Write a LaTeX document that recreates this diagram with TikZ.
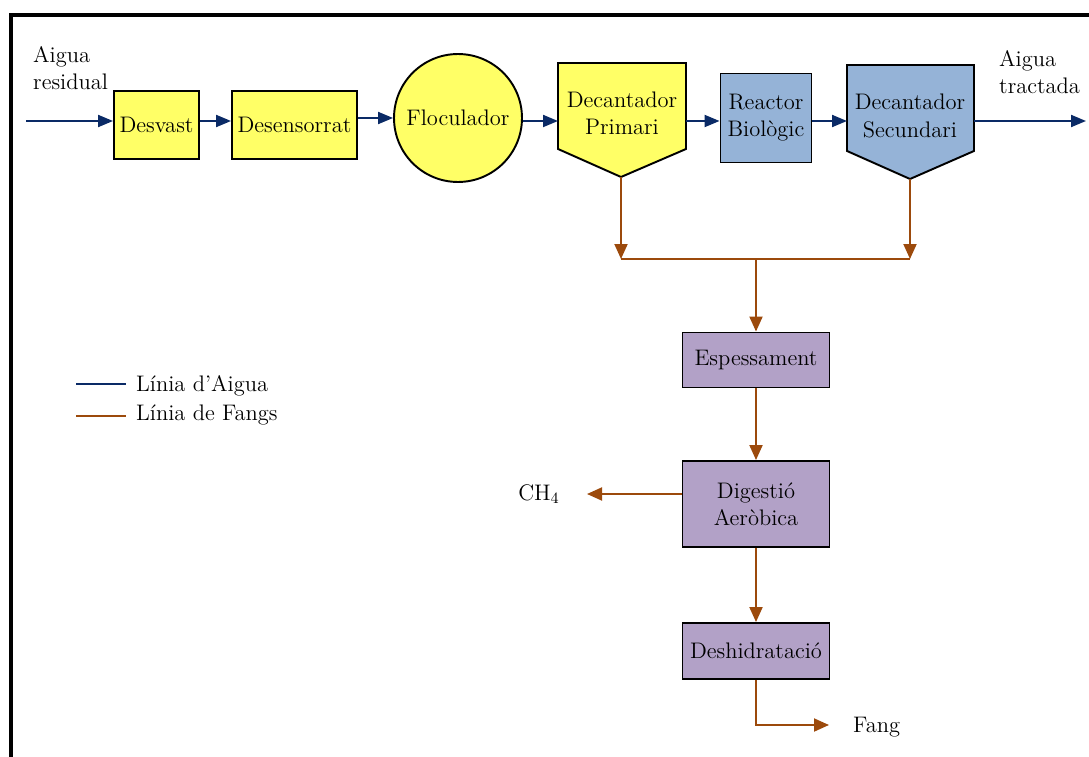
\documentclass[tikz,border=0pt]{standalone}
\usepackage{tikz}
\usetikzlibrary{arrows.meta}
\definecolor{yel}{HTML}{FFFF66}
\definecolor{sky}{HTML}{95B3D7}
\definecolor{lila}{HTML}{B2A1C7}
\definecolor{navy}{HTML}{0A2A66}
\definecolor{fang}{HTML}{9C4A0C}
\tikzset{
  box/.style={draw=black, line width=1.1pt, inner sep=1pt, align=center},
  ybox/.style={box, fill=yel},
  bbox/.style={box, fill=sky},
  pbox/.style={box, fill=lila, minimum width=2.94cm},
  water/.style={draw=navy, line width=1.1pt, -{Triangle[length=0.3cm,width=0.24cm]}},
  sludge/.style={draw=fang, line width=1.1pt, -{Triangle[length=0.3cm,width=0.26cm]}},
  lab/.style={align=left},
}

\begin{document}
\begin{tikzpicture}[x=0.02cm, y=-0.02cm, font=\fontsize{12.8}{15.5}\selectfont]
  \useasboundingbox (0,0) rectangle (1089,757);
  \draw[line width=2.3pt] (11,780) -- (11,15) -- (1110,15);
  \coordinate (wl) at (0,121);
  % linia d'aigua
  \node[ybox, minimum width=1.70cm, minimum height=1.36cm] (desvast) at (156.5,125) {Desvast};
  \node[ybox, minimum width=2.50cm, minimum height=1.36cm, inner sep=0pt] (desens) at (294.5,125) {Desensorrat};
  \node[ybox, circle, minimum size=2.56cm] (flocul) at (458,118) {Floculador};
  \filldraw[fill=yel, draw=black, line width=1.1pt]
    (558,63) -- (686,63) -- (686,149) -- (621,177) -- (558,149) -- cycle;
  \coordinate (primpt) at (621,177);
  \node[lab, align=center] (prim) at (622,113) {Decantador\\Primari};
  \node[bbox, minimum width=1.82cm, minimum height=1.78cm] (reactor) at (766,118) {Reactor\\Biològic};
  \filldraw[fill=sky, draw=black, line width=1.1pt]
    (847,65) -- (974,65) -- (974,151) -- (910,179) -- (847,151) -- cycle;
  \coordinate (secpt) at (910,179);
  \node[lab, align=center] (sec) at (910,116) {Decantador\\Secundari};
  \coordinate (in) at (26,121);
  \coordinate (primL) at (558,121);
  \coordinate (primR) at (686,121);
  \coordinate (secL) at (847,121);
  \coordinate (secR) at (974,121);
  \coordinate (out) at (1086,121);
  \node[lab, anchor=west] (resid) at (27,68) {Aigua\\residual};
  \node[lab, anchor=west] (tract) at (993,72) {Aigua\\tractada};
  \draw[water] (in) -- (desvast.west |- wl);
  \draw[water] (desvast.east |- wl) -- (desens.west |- wl);
  \draw[water] (desens.east |- flocul.west) -- (flocul.west);
  \draw[water] (flocul.east |- wl) -- (primL);
  \draw[water] (primR) -- (reactor.west |- wl);
  \draw[water] (reactor.east |- wl) -- (secL);
  \draw[water] (secR) -- (out);
  % linia de fangs
  \coordinate (jL) at (621,259);
  \coordinate (jR) at (910,259);
  \node[pbox, minimum height=1.10cm] (espess) at (756,360) {Espessament};
  \node[pbox, minimum height=1.72cm] (digest) at (756,504) {Digestió\\Aeròbica};
  \node[pbox, minimum height=1.12cm] (deshid) at (756,651) {Deshidratació};
  \draw[sludge] (primpt) -- (jL);
  \draw[sludge] (secpt) -- (jR);
  \draw[fang, line width=1.1pt] (jL) -- (jR);
  \draw[sludge] (espess.north |- jL) -- (espess.north);
  \draw[sludge] (espess) -- (digest);
  \draw[sludge] (digest) -- (deshid);
  \node[lab] (ch4) at (539,494) {CH\textsubscript{4}};
  \coordinate (ch4end) at (587,494);
  \draw[sludge] (digest.west |- ch4end) -- (ch4end);
  \coordinate (fangend) at (829,725);
  \node[lab, anchor=west] (fangtxt) at (847,727) {Fang};
  \draw[sludge] (deshid.south) |- (fangend);
  % llegenda
  \coordinate (l1a) at (76,384);
  \coordinate (l1b) at (126,384);
  \coordinate (l2a) at (76,416);
  \coordinate (l2b) at (126,416);
  \draw[navy, line width=1.1pt] (l1a) -- (l1b);
  \draw[fang, line width=1.1pt] (l2a) -- (l2b);
  \node[lab, anchor=west] (leg1) at (130,386) {Línia d’Aigua};
  \node[lab, anchor=west] (leg2) at (130,415) {Línia de Fangs};
\end{tikzpicture}
\end{document}
